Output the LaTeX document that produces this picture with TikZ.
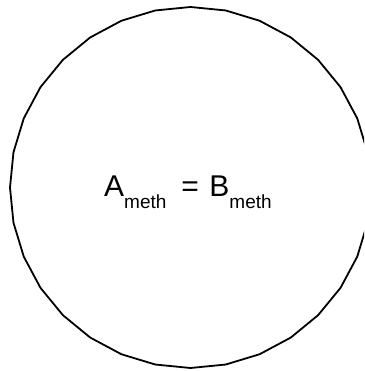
\documentclass[tikz,border=0pt]{standalone}
\usepackage{fontspec}
\setmainfont{Liberation Sans}
\usetikzlibrary{shapes.geometric}
\begin{document}
\begin{tikzpicture}[x=1pt,y=1pt,
  ring/.style={draw=black, line width=1.8pt, regular polygon, regular polygon sides=32,
    shape border rotate=5.625, minimum size=361pt, inner sep=0pt},
  eq/.style={inner sep=0pt, anchor=base west, font=\fontsize{30}{30}\selectfont}]
\useasboundingbox (0,0) rectangle (364,371);
\begin{scope}
\clip (0,0) rectangle (364,371);
\node[ring] (c) at (190.5,183.5) {};
\end{scope}
\node[eq] (t) at (104,174) {A\raisebox{-12pt}{\fontsize{19}{19}\selectfont meth}\hspace{15pt}=\hspace{10.5pt}B\raisebox{-12pt}{\fontsize{19}{19}\selectfont meth}};
\end{tikzpicture}
\end{document}
